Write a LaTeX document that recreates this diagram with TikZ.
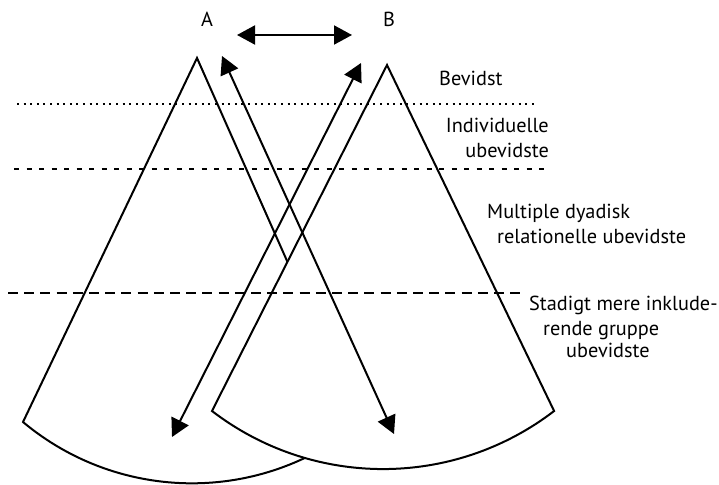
\documentclass[tikz,border=0pt]{standalone}
\usepackage{fontspec}
\setmainfont{PT Sans}
\usetikzlibrary{arrows.meta}

\tikzset{
  fan/.style={line width=2pt, fill=white, line join=miter},
  biarrow/.style={line width=2pt,
    {Triangle[length=18pt,width=19pt]}-{Triangle[length=18pt,width=19pt]}},
  dotline/.style={line width=1.9pt, dash pattern=on 2pt off 4.6pt},
  shortdash/.style={line width=1.9pt, dash pattern=on 5pt off 7.5pt},
  longdash/.style={line width=1.9pt, dash pattern=on 10pt off 6.2pt},
  lbl/.style={inner sep=0pt, font=\fontsize{20.3}{24}\selectfont},
}

\begin{document}
\begin{tikzpicture}[x=1pt,y=1pt]
  \useasboundingbox (0,0) rectangle (719,-484);

  % the two fans; B lies on top of A
  \coordinate (apexA) at (197,-58);
  \coordinate (cornerA) at (23,-422);
  \coordinate (apexB) at (387,-65);
  \coordinate (cornerB) at (212,-411);
  \draw[fan] (apexA) -- (cornerA)
    arc[start angle=230.1, end angle=309.4, radius=263.4] -- cycle;
  \draw[fan] (apexB) -- (cornerB)
    arc[start angle=232.5, end angle=307.5, radius=281] -- cycle;

  % level separators
  \coordinate (d1a) at (17,-104);  \coordinate (d1b) at (537,-104);
  \coordinate (d2a) at (14,-169);  \coordinate (d2b) at (548,-169);
  \coordinate (d3a) at (8,-293);   \coordinate (d3b) at (523,-293);
  \draw[dotline] (d1a) -- (d1b);
  \draw[shortdash] (d2a) -- (d2b);
  \draw[longdash] (d3a) -- (d3b);

  % arrows
  \coordinate (h1) at (237,-35);  \coordinate (h2) at (352,-35);
  \coordinate (p1) at (222,-56);  \coordinate (p2) at (394,-434);
  \coordinate (q1) at (361,-63);  \coordinate (q2) at (172,-437);
  \draw[biarrow] (h1) -- (h2);
  \draw[biarrow] (p1) -- (p2);
  \draw[biarrow] (q1) -- (q2);

  % labels
  \node[lbl, anchor=base] (labA) at (207,-27) {A};
  \node[lbl, anchor=base] (labB) at (389,-27) {B};
  \node[lbl, anchor=base west] (bev) at (439,-85) {Bevidst};
  \node[lbl, anchor=base east] (ind1) at (549,-132) {Individuelle};
  \node[lbl, anchor=base east] (ind2) at (549,-157) {ubevidste};
  \node[lbl, anchor=base west] (mul1) at (487,-218) {Multiple dyadisk};
  \node[lbl, anchor=base west] (mul2) at (497,-243) {relationelle ubevidste};
  \node[lbl, anchor=base west] (sta1) at (529,-310) {Stadigt mere inklude-};
  \node[lbl, anchor=base west] (sta2) at (543,-335) {rende gruppe};
  \node[lbl, anchor=base west] (sta3) at (566,-357) {ubevidste};
\end{tikzpicture}
\end{document}
